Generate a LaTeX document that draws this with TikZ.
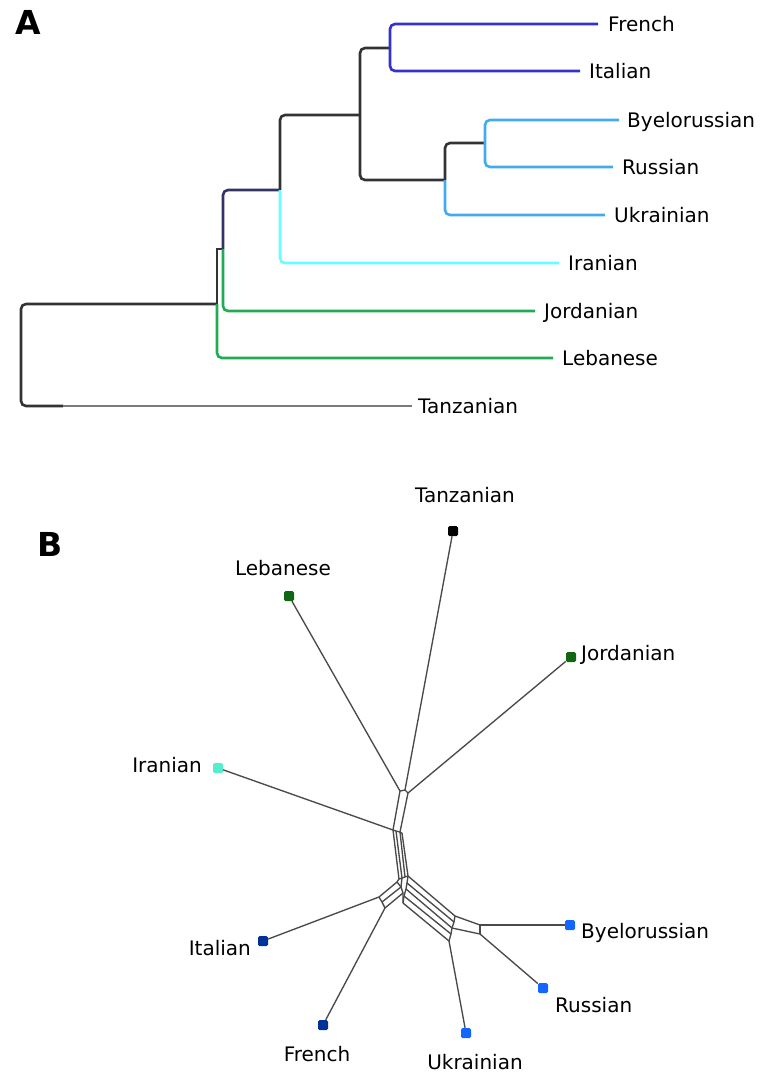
\documentclass[tikz,border=0pt]{standalone}
\usepackage{fontspec}
\setmainfont{DejaVu Sans}
\definecolor{cblk}{HTML}{333333}
\definecolor{ctail}{HTML}{7A7A7A}
\definecolor{cnavy}{HTML}{333366}
\definecolor{cblue}{HTML}{3333CC}
\definecolor{clblue}{HTML}{44AAF0}
\definecolor{ccyan}{HTML}{66FFFF}
\definecolor{cgreen}{HTML}{22AA55}
\definecolor{netgray}{HTML}{4A4A4A}
\definecolor{mgreen}{HTML}{116611}
\definecolor{maqua}{HTML}{55EECC}
\definecolor{mnavy}{HTML}{003399}
\definecolor{mblue}{HTML}{1166FF}
\begin{document}
\begin{tikzpicture}[x=1pt,y=-1pt]
\tikzset{
  br/.style={line width=2.6pt, rounded corners=5pt},
  lab/.style={inner sep=0pt, text height=14.5pt, text depth=0pt, font=\fontsize{20}{24}\selectfont},
  panel/.style={inner sep=0pt, font=\fontsize{33}{36}\selectfont\bfseries},
  mk/.style={minimum size=10pt, inner sep=0pt, rounded corners=1.5pt, draw=none},
  net/.style={line width=1.35pt, draw=netgray, line join=round},
}
\useasboundingbox (0,0) rectangle (763,1072);

% ---------------- Panel A ----------------
\node[panel, anchor=north west] (A) at (15,10) {A};

\node[lab, anchor=west] (lFr) at (608,24) {French};
\node[lab, anchor=west] (lIt) at (589,71) {Italian};
\node[lab, anchor=west] (lBy) at (627,120) {Byelorussian};
\node[lab, anchor=west] (lRu) at (622,167) {Russian};
\node[lab, anchor=west] (lUk) at (614,215) {Ukrainian};
\node[lab, anchor=west] (lIr) at (568,263) {Iranian};
\node[lab, anchor=west] (lJo) at (544,311) {Jordanian};
\node[lab, anchor=west] (lLe) at (562,358) {Lebanese};
\node[lab, anchor=west] (lTa) at (418,406) {Tanzanian};

\coordinate (n1) at (217,304);
\coordinate (n1t) at (217,249);
\coordinate (n2) at (223,249);
\coordinate (n3) at (280,190);
\coordinate (n4) at (360,115);
\coordinate (n5) at (390,48);
\coordinate (n6) at (445,180);
\coordinate (n7) at (485,143);
\coordinate (tmid) at (63,406);

\draw[br, cblk] (n1) -- (21,304) -- (21,406) -- (tmid);
\draw[line width=2.6pt, ctail] (tmid) -- ([xshift=-6pt]lTa.west);
\draw[line width=2.6pt, cblk] (n1) -- (n1t) -- (n2);
\draw[br, cgreen] (n1) -- (217,358) -- ([xshift=-9pt]lLe.west);
\draw[br, cnavy] (n2) -- (223,190) -- (n3);
\draw[br, cgreen] (n2) -- (223,311) -- ([xshift=-9pt]lJo.west);
\draw[br, cblk] (n3) -- (280,115) -- (n4);
\draw[br, ccyan] (n3) -- (280,263) -- ([xshift=-9pt]lIr.west);
\draw[br, cblk] (n4) -- (360,48) -- (n5);
\draw[br, cblk] (n4) -- (360,180) -- (n6);
\draw[br, cblue] (n5) -- (390,24) -- ([xshift=-10pt]lFr.west);
\draw[br, cblue] (n5) -- (390,71) -- ([xshift=-9pt]lIt.west);
\draw[br, cblk] (n6) -- (445,143) -- (n7);
\draw[br, clblue] (n6) -- (445,215) -- ([xshift=-9pt]lUk.west);
\draw[br, clblue] (n7) -- (485,120) -- ([xshift=-8pt]lBy.west);
\draw[br, clblue] (n7) -- (485,167) -- ([xshift=-9pt]lRu.west);

% ---------------- Panel B ----------------
\node[panel, anchor=north west] (B) at (37,532) {B};

% junction coordinates
\coordinate (p1) at (400,791);
\coordinate (q1) at (405,790);
\coordinate (p2) at (408,793);
\coordinate (p3) at (393,830);
\coordinate (p4) at (400,832);
\coordinate (u1) at (396,831);
\coordinate (u2) at (402,833);
\coordinate (d0) at (399,879);
\coordinate (d1) at (402,878);
\coordinate (d2) at (405,877);
\coordinate (d3) at (408,876);
\coordinate (h1) at (397,882);
\coordinate (h2) at (401,887);
\coordinate (h3) at (403,893);
\coordinate (iJ) at (379,897);
\coordinate (iK) at (382,902);
\coordinate (fJ) at (385,908);
\coordinate (r0) at (408,876);
\coordinate (r1) at (407,883);
\coordinate (r2) at (406,889);
\coordinate (r3) at (404,896);
\coordinate (r4) at (403,903);
\coordinate (s0) at (455,916);
\coordinate (s1) at (454,922);
\coordinate (s2) at (452,928);
\coordinate (s3) at (451,934);
\coordinate (s4) at (449,941);
\coordinate (bJ) at (480,925);
\coordinate (rJ) at (480,934);

% markers
\node[mk, fill=black]  (mTa) at (453,531) {};
\node[mk, fill=mgreen] (mLe) at (289,596) {};
\node[mk, fill=mgreen] (mJo) at (571,657) {};
\node[mk, fill=maqua]  (mIr) at (218,768) {};
\node[mk, fill=mnavy]  (mIt) at (263,941) {};
\node[mk, fill=mnavy]  (mFr) at (323,1025) {};
\node[mk, fill=mblue]  (mUk) at (466,1033) {};
\node[mk, fill=mblue]  (mRu) at (543,988) {};
\node[mk, fill=mblue]  (mBy) at (570,925) {};

% labels
\node[lab] (bTa) at (465,495) {Tanzanian};
\node[lab] (bLe) at (283,568) {Lebanese};
\node[lab, anchor=west] (bJo) at (581,653) {Jordanian};
\node[lab, anchor=east] (bIr) at (202,765) {Iranian};
\node[lab, anchor=east] (bIt) at (251,948) {Italian};
\node[lab] (bFr) at (317,1054) {French};
\node[lab] (bUk) at (475,1062) {Ukrainian};
\node[lab, anchor=west] (bRu) at (555,1005) {Russian};
\node[lab, anchor=west] (bBy) at (581,931) {Byelorussian};

% pendant edges
\draw[net] (mTa) -- (q1);
\draw[net] (mLe) -- (p1);
\draw[net] (mJo) -- (p2);
\draw[net] (mIr) -- (p3);
\draw[net] (mIt) -- (iJ);
\draw[net] (mFr) -- (fJ);
\draw[net] (mUk) -- (s4);
\draw[net] (mRu) -- (rJ);
\draw[net] (mBy) -- (bJ);

% upper box
\draw[net] (p1) -- (q1) -- (p2);
\draw[net] (p1) -- (p3);
\draw[net] (p2) -- (p4);
\draw[net] (p3) -- (u1) -- (p4) -- (u2);
% central bundle
\draw[net] (p3) -- (d0);
\draw[net] (u1) -- (d1);
\draw[net] (p4) -- (d2);
\draw[net] (u2) -- (d3);
\draw[net] (d0) -- (d1) -- (d2) -- (d3);
% left split (Italian / French)
\draw[net] (d0) -- (h1) -- (h2) -- (h3) -- (r4);
\draw[net] (d1) -- (h2);
\draw[net] (h1) -- (iJ);
\draw[net] (h2) -- (iK);
\draw[net] (h3) -- (fJ);
\draw[net] (iJ) -- (iK) -- (fJ);
% right bundle
\draw[net] (r0) -- (r1) -- (r2) -- (r3) -- (r4);
\draw[net] (r0) -- (s0);
\draw[net] (r1) -- (s1);
\draw[net] (r2) -- (s2);
\draw[net] (r3) -- (s3);
\draw[net] (r4) -- (s4);
\draw[net] (s0) -- (s1) -- (s2) -- (s3) -- (s4);
% Byelorussian / Russian split
\draw[net] (s0) -- (bJ);
\draw[net] (s2) -- (rJ);
\draw[net] (bJ) -- (rJ);
\end{tikzpicture}
\end{document}
